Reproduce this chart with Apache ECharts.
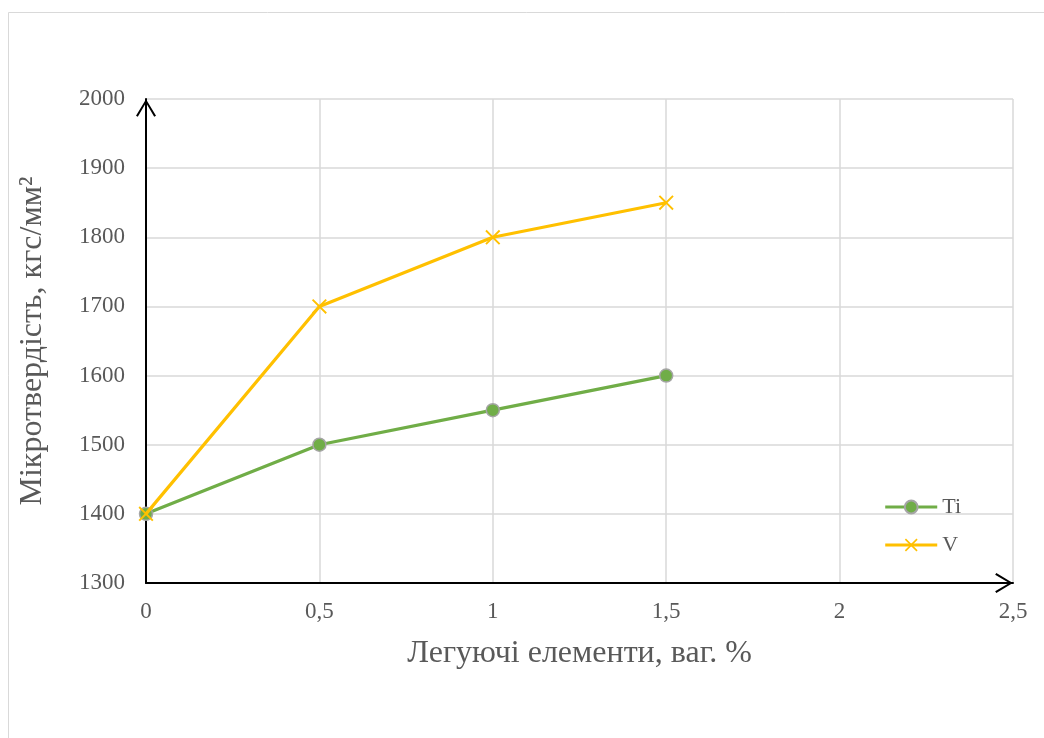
<!DOCTYPE html>
<html><head><meta charset="utf-8">
<script src="https://cdn.jsdelivr.net/npm/echarts@6/dist/echarts.min.js"></script>
<style>html,body{margin:0;padding:0;background:#fff}#c{width:1044px;height:738px}</style>
</head><body><div id="c"></div>
<script>
const xTicks = [0, 0.5, 1, 1.5, 2, 2.5];
const yTicks = [1300, 1400, 1500, 1600, 1700, 1800, 1900, 2000];
const xValues = [0, 0.5, 1, 1.5];
const tiValues = [1400, 1500, 1550, 1600];
const vValues = [1400, 1700, 1800, 1850];
const xTitle = 'Легуючі елементи, ваг. %';
const yTitle = 'Мікротвердість, кгс/мм²';

const font = 'Liberation Serif, Times New Roman, serif';
const chevron = 'path://M10,0 L20,16.5 L18.2,17.7 L10,3.6 L1.8,17.7 L0,16.5 Z';
const cross = 'path://M0,0.9 L0.9,0 L5,4.1 L9.1,0 L10,0.9 L5.9,5 L10,9.1 L9.1,10 L5,5.9 L0.9,10 L0,9.1 L4.1,5 Z';

const chart = echarts.init(document.getElementById('c'));
chart.setOption({
  animation: false,
  backgroundColor: '#fff',
  graphic: [{type: 'rect', shape: {x: 8.5, y: 12.5, width: 1200, height: 900}, style: {fill: 'none', stroke: '#d9d9d9', lineWidth: 1}, z: -10}],
  grid: {left: 146, right: 31, top: 99, bottom: 155},
  legend: {
    right: 78, top: 491, orient: 'vertical', itemGap: 16, itemWidth: 52, itemHeight: 16,
    lineStyle: {width: 3},
    textStyle: {fontFamily: font, fontSize: 22, color: '#595959'},
    data: ['Ti', 'V']
  },
  xAxis: {
    type: 'value', min: 0, max: 2.5, interval: 0.5,
    name: xTitle, nameLocation: 'middle', nameGap: 55,
    nameTextStyle: {fontFamily: font, fontSize: 32, color: '#595959'},
    axisLine: {show: true, lineStyle: {color: '#000', width: 2}, symbol: ['none', chevron], symbolSize: [20, 18], symbolOffset: [0, -9]},
    axisTick: {show: false},
    axisLabel: {margin: 17, fontFamily: font, fontSize: 23, color: '#595959', formatter: v => String(v).replace('.', ',')},
    splitLine: {show: true, lineStyle: {color: '#d9d9d9', width: 1.5}}
  },
  yAxis: {
    type: 'value', min: 1300, max: 2000, interval: 100,
    name: yTitle, nameLocation: 'middle', nameGap: 97,
    nameTextStyle: {fontFamily: font, fontSize: 32, color: '#595959'},
    axisLine: {show: true, lineStyle: {color: '#000', width: 2}, symbol: ['none', chevron], symbolSize: [20, 18], symbolOffset: [0, -9]},
    axisTick: {show: false},
    axisLabel: {margin: 21, fontFamily: font, fontSize: 23, color: '#595959', formatter: v => String(v)},
    splitLine: {show: true, lineStyle: {color: '#d9d9d9', width: 1.5}}
  },
  series: [
    {
      name: 'Ti', type: 'line', data: xValues.map((x, i) => [x, tiValues[i]]),
      symbol: 'circle', symbolSize: 13, z: 3,
      lineStyle: {color: '#70AD47', width: 3.2},
      itemStyle: {color: '#70AD47', borderColor: '#A5A5A5', borderWidth: 1.5}
    },
    {
      name: 'V', type: 'line', data: xValues.map((x, i) => [x, vValues[i]]),
      symbol: cross, symbolSize: 15, z: 4,
      lineStyle: {color: '#FFC000', width: 3.2},
      itemStyle: {color: '#FFC000'}
    }
  ]
});
</script></body></html>
